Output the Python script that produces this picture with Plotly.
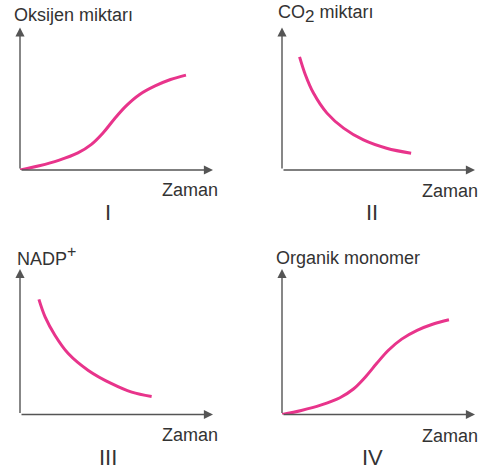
import plotly.graph_objects as go

W, H = 489, 476

# Curve data (time, amount) for each of the four graphs, axes run 0..10
t_oksijen = [0.0, 1.0, 2.0, 3.0, 3.7, 4.3, 4.9, 5.5, 6.2, 7.0, 7.8, 8.6]
y_oksijen = [0.0, 0.30, 0.68, 1.20, 1.80, 2.60, 3.60, 4.50, 5.30, 5.90, 6.35, 6.66]

t_co2 = [0.91, 1.21, 1.63, 2.33, 3.19, 4.22, 5.42, 6.69]
y_co2 = [7.94, 6.69, 5.40, 3.99, 2.94, 2.11, 1.53, 1.18]

t_nadp = [0.98, 1.30, 1.81, 2.50, 3.54, 4.75, 5.79, 6.82]
y_nadp = [7.91, 6.71, 5.45, 4.19, 3.03, 2.12, 1.54, 1.24]

t_monomer = [0.0, 1.0, 2.0, 3.0, 3.7, 4.3, 4.9, 5.5, 6.2, 7.0, 7.8, 8.65]
y_monomer = [0.0, 0.28, 0.64, 1.15, 1.75, 2.55, 3.50, 4.40, 5.18, 5.78, 6.20, 6.51]

y_titles = [
    "Oksijen miktarı",
    "CO<sub><span style='font-size:17px'>2</span></sub> miktarı",
    "NADP<sup><span style='font-size:16px'>+</span></sup>",
    "Organik monomer",
]
x_title = "Zaman"
numerals = ["I", "II", "III", "IV"]

CURVE = "#e8348b"
AXIS = "#555555"
TEXT = "#333333"
FONT = "Liberation Sans, Arial, sans-serif"


def px(x):
    return x / W


def py(y):
    return 1 - y / H


# panel boxes in pixels: (left, right, bottom, top) = origin to arrow tips
boxes = [
    (20, 213, 170, 27.5),
    (282, 475, 170, 27.5),
    (20, 213, 414.5, 269),
    (282, 475, 414.5, 269),
]
series = [(t_oksijen, y_oksijen), (t_co2, y_co2), (t_nadp, y_nadp), (t_monomer, y_monomer)]

fig = go.Figure()
annotations = []

for i, ((l, r, b, t), (xs, ys)) in enumerate(zip(boxes, series)):
    n = "" if i == 0 else str(i + 1)
    xa, ya = "x" + n, "y" + n
    fig.add_trace(go.Scatter(
        x=xs, y=ys, xaxis=xa, yaxis=ya, mode="lines",
        line=dict(color=CURVE, width=3, shape="spline", smoothing=1.0),
        cliponaxis=False, hoverinfo="skip", showlegend=False,
    ))
    common = dict(range=[0, 10], showgrid=False, zeroline=False,
                  showticklabels=False, showline=False, ticks="", fixedrange=True)
    fig.update_layout(**{
        "xaxis" + n: dict(domain=[px(l), px(r)], anchor=ya, **common),
        "yaxis" + n: dict(domain=[py(b), py(t)], anchor=xa, **common),
    })
    # axis lines with arrowheads
    for (x, y) in [(10, 0), (0, 10)]:
        annotations.append(dict(
            x=x, y=y, ax=0, ay=0, xref=xa, yref=ya, axref=xa, ayref=ya,
            text="", showarrow=True, arrowhead=2, arrowsize=1.3,
            arrowwidth=1.4, arrowcolor=AXIS, standoff=0, startstandoff=0,
        ))

# y axis titles
title_pos = [(12, 15), (276, 14), (15, 256), (274, 257.5)]
for txt, (x, y) in zip(y_titles, title_pos):
    annotations.append(dict(
        x=px(x), y=py(y), xref="paper", yref="paper", xanchor="left", yanchor="middle",
        text=txt, showarrow=False, font=dict(family=FONT, size=18, color=TEXT),
    ))

# x axis titles
zaman_pos = [(220, 190), (480, 190.5), (220, 435), (480, 436)]
for (x, y) in zaman_pos:
    annotations.append(dict(
        x=px(x), y=py(y), xref="paper", yref="paper", xanchor="right", yanchor="middle",
        text=x_title, showarrow=False, font=dict(family=FONT, size=18, color=TEXT),
    ))

# panel numerals
num_pos = [(108, 213), (372, 213), (108, 457.5), (372, 457.5)]
for txt, (x, y) in zip(numerals, num_pos):
    annotations.append(dict(
        x=px(x), y=py(y), xref="paper", yref="paper", xanchor="center", yanchor="middle",
        text=txt, showarrow=False, font=dict(family=FONT, size=22, color=TEXT),
    ))

fig.update_layout(
    width=W, height=H, margin=dict(l=0, r=0, t=0, b=0),
    paper_bgcolor="white", plot_bgcolor="white",
    annotations=annotations, showlegend=False,
)

fig.write_html("out.html", config={"displayModeBar": False})
